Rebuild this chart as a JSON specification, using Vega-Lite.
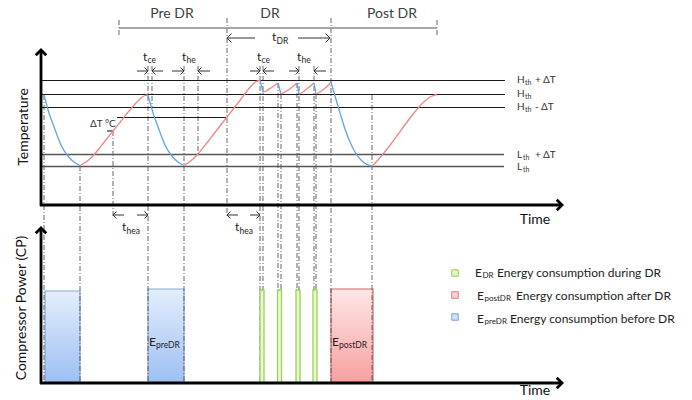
{
  "$schema": "https://vega.github.io/schema/vega-lite/v6.json",
  "width": 692,
  "height": 400,
  "padding": 0,
  "autosize": {"type": "none"},
  "background": "white",
  "config": {"view": {"stroke": null}, "text": {"font": "Lato"}},
  "datasets": {
    "bars": [
      {"kind": "pre", "x": 45, "x2": 80, "y": 291, "y2": 383},
      {"kind": "pre", "x": 148, "x2": 184, "y": 289, "y2": 383},
      {"kind": "dr", "x": 260, "x2": 264, "y": 290, "y2": 383},
      {"kind": "dr", "x": 277.5, "x2": 281.5, "y": 290, "y2": 383},
      {"kind": "dr", "x": 296, "x2": 300, "y": 290, "y2": 383},
      {"kind": "dr", "x": 313, "x2": 317, "y": 290, "y2": 383},
      {"kind": "post", "x": 331, "x2": 373, "y": 289, "y2": 383}
    ],
    "segs": [
      {"kind": "dash", "x": 44, "x2": 44, "y": 95, "y2": 383},
      {"kind": "dash", "x": 80, "x2": 80, "y": 166, "y2": 383},
      {"kind": "dash", "x": 113, "x2": 113, "y": 131, "y2": 218},
      {"kind": "dash", "x": 119, "x2": 119, "y": 20, "y2": 36},
      {"kind": "dash", "x": 148, "x2": 148, "y": 66, "y2": 383},
      {"kind": "dash", "x": 152, "x2": 152, "y": 66, "y2": 107},
      {"kind": "dash", "x": 184, "x2": 184, "y": 66, "y2": 383},
      {"kind": "dash", "x": 198, "x2": 198, "y": 66, "y2": 154},
      {"kind": "dash", "x": 227, "x2": 227, "y": 18, "y2": 218},
      {"kind": "dash", "x": 260, "x2": 260, "y": 66, "y2": 383},
      {"kind": "dash", "x": 263, "x2": 263, "y": 66, "y2": 383},
      {"kind": "dash", "x": 278, "x2": 278, "y": 83, "y2": 383},
      {"kind": "dash", "x": 281, "x2": 281, "y": 94, "y2": 383},
      {"kind": "dash", "x": 297, "x2": 297, "y": 83, "y2": 383},
      {"kind": "dash", "x": 299, "x2": 299, "y": 66, "y2": 383},
      {"kind": "dash", "x": 314, "x2": 314, "y": 66, "y2": 383},
      {"kind": "dash", "x": 316, "x2": 316, "y": 94, "y2": 383},
      {"kind": "dash", "x": 331, "x2": 331, "y": 18, "y2": 383},
      {"kind": "dash", "x": 372, "x2": 372, "y": 95, "y2": 383},
      {"kind": "dash", "x": 437, "x2": 437, "y": 20, "y2": 36},
      {"kind": "thresh", "x": 42, "x2": 505, "y": 80.5, "y2": 80.5},
      {"kind": "thresh", "x": 42, "x2": 505, "y": 94.5, "y2": 94.5},
      {"kind": "thresh", "x": 42, "x2": 505, "y": 107.5, "y2": 107.5},
      {"kind": "thresh", "x": 117, "x2": 227, "y": 117.5, "y2": 117.5},
      {"kind": "thresh", "x": 107, "x2": 113, "y": 131, "y2": 131},
      {"kind": "threshL", "x": 42, "x2": 504, "y": 154.5, "y2": 154.5},
      {"kind": "threshL", "x": 42, "x2": 504, "y": 166.5, "y2": 166.5},
      {"kind": "bracket", "x": 119, "x2": 437, "y": 28, "y2": 28},
      {"kind": "shaft", "x": 227, "x2": 255, "y": 38, "y2": 38},
      {"kind": "shaft", "x": 298, "x2": 330, "y": 38, "y2": 38},
      {"kind": "shaft", "x": 137, "x2": 148, "y": 71, "y2": 71},
      {"kind": "shaft", "x": 152, "x2": 163, "y": 71, "y2": 71},
      {"kind": "shaft", "x": 172, "x2": 184, "y": 71, "y2": 71},
      {"kind": "shaft", "x": 198, "x2": 210, "y": 71, "y2": 71},
      {"kind": "shaft", "x": 250, "x2": 260, "y": 71, "y2": 71},
      {"kind": "shaft", "x": 263, "x2": 274, "y": 71, "y2": 71},
      {"kind": "shaft", "x": 289, "x2": 299, "y": 71, "y2": 71},
      {"kind": "shaft", "x": 314, "x2": 326, "y": 71, "y2": 71},
      {"kind": "shaft", "x": 113, "x2": 124, "y": 215, "y2": 215},
      {"kind": "shaft", "x": 137, "x2": 148, "y": 215, "y2": 215},
      {"kind": "shaft", "x": 227, "x2": 238, "y": 215, "y2": 215},
      {"kind": "shaft", "x": 250, "x2": 260, "y": 215, "y2": 215},
      {"kind": "axis", "x": 41, "x2": 41, "y": 206, "y2": 52},
      {"kind": "axis", "x": 40, "x2": 560, "y": 205, "y2": 205},
      {"kind": "axis", "x": 41, "x2": 41, "y": 384, "y2": 230},
      {"kind": "axis", "x": 40, "x2": 560, "y": 383, "y2": 383}
    ],
    "heads": [
      {"kind": "small", "dir": "r", "x": 148, "y": 71},
      {"kind": "small", "dir": "l", "x": 152, "y": 71},
      {"kind": "small", "dir": "r", "x": 184, "y": 71},
      {"kind": "small", "dir": "l", "x": 198, "y": 71},
      {"kind": "small", "dir": "r", "x": 260, "y": 71},
      {"kind": "small", "dir": "l", "x": 263, "y": 71},
      {"kind": "small", "dir": "r", "x": 299, "y": 71},
      {"kind": "small", "dir": "l", "x": 314, "y": 71},
      {"kind": "small", "dir": "l", "x": 113, "y": 215},
      {"kind": "small", "dir": "r", "x": 148, "y": 215},
      {"kind": "small", "dir": "l", "x": 227, "y": 215},
      {"kind": "small", "dir": "r", "x": 260, "y": 215},
      {"kind": "mid", "dir": "l", "x": 227, "y": 38},
      {"kind": "mid", "dir": "r", "x": 330, "y": 38},
      {"kind": "axis", "dir": "u", "x": 41, "y": 50},
      {"kind": "axis", "dir": "r", "x": 562, "y": 205},
      {"kind": "axis", "dir": "u", "x": 41, "y": 228},
      {"kind": "axis", "dir": "r", "x": 562, "y": 383}
    ],
    "legend": [
      {"kind": "dr", "x": 455, "y": 273},
      {"kind": "post", "x": 455, "y": 295},
      {"kind": "pre", "x": 455, "y": 317}
    ],
    "curve": [
      {"seg": "c1", "phase": "cool", "x": 44, "y": 95},
      {"seg": "c1", "phase": "cool", "x": 47, "y": 106},
      {"seg": "c1", "phase": "cool", "x": 50, "y": 116},
      {"seg": "c1", "phase": "cool", "x": 53, "y": 124},
      {"seg": "c1", "phase": "cool", "x": 57, "y": 135},
      {"seg": "c1", "phase": "cool", "x": 62, "y": 147},
      {"seg": "c1", "phase": "cool", "x": 68, "y": 156},
      {"seg": "c1", "phase": "cool", "x": 74, "y": 162},
      {"seg": "c1", "phase": "cool", "x": 80, "y": 165.5},
      {"seg": "h1", "phase": "heat", "x": 80, "y": 165.5},
      {"seg": "h1", "phase": "heat", "x": 86, "y": 162},
      {"seg": "h1", "phase": "heat", "x": 92, "y": 157},
      {"seg": "h1", "phase": "heat", "x": 98, "y": 150},
      {"seg": "h1", "phase": "heat", "x": 105, "y": 141},
      {"seg": "h1", "phase": "heat", "x": 113, "y": 131},
      {"seg": "h1", "phase": "heat", "x": 121, "y": 121},
      {"seg": "h1", "phase": "heat", "x": 129, "y": 111},
      {"seg": "h1", "phase": "heat", "x": 136, "y": 103},
      {"seg": "h1", "phase": "heat", "x": 141, "y": 98},
      {"seg": "h1", "phase": "heat", "x": 145, "y": 95.5},
      {"seg": "h1", "phase": "heat", "x": 148, "y": 95},
      {"seg": "c2", "phase": "cool", "x": 148, "y": 95},
      {"seg": "c2", "phase": "cool", "x": 151, "y": 106},
      {"seg": "c2", "phase": "cool", "x": 154, "y": 116},
      {"seg": "c2", "phase": "cool", "x": 157, "y": 124},
      {"seg": "c2", "phase": "cool", "x": 161, "y": 135},
      {"seg": "c2", "phase": "cool", "x": 166, "y": 147},
      {"seg": "c2", "phase": "cool", "x": 172, "y": 156},
      {"seg": "c2", "phase": "cool", "x": 178, "y": 162},
      {"seg": "c2", "phase": "cool", "x": 184, "y": 165.5},
      {"seg": "h2", "phase": "heat", "x": 184, "y": 165.5},
      {"seg": "h2", "phase": "heat", "x": 190, "y": 161.5},
      {"seg": "h2", "phase": "heat", "x": 198, "y": 154},
      {"seg": "h2", "phase": "heat", "x": 206, "y": 144},
      {"seg": "h2", "phase": "heat", "x": 213, "y": 135},
      {"seg": "h2", "phase": "heat", "x": 220, "y": 126},
      {"seg": "h2", "phase": "heat", "x": 227, "y": 117},
      {"seg": "h2", "phase": "heat", "x": 234, "y": 108},
      {"seg": "h2", "phase": "heat", "x": 241, "y": 99},
      {"seg": "h2", "phase": "heat", "x": 247, "y": 91},
      {"seg": "h2", "phase": "heat", "x": 252, "y": 85},
      {"seg": "h2", "phase": "heat", "x": 256, "y": 81.5},
      {"seg": "h2", "phase": "heat", "x": 260, "y": 80.5},
      {"seg": "d1c", "phase": "cool", "x": 260, "y": 80.5},
      {"seg": "d1c", "phase": "cool", "x": 263, "y": 92},
      {"seg": "d1h", "phase": "heat", "x": 263, "y": 92},
      {"seg": "d1h", "phase": "heat", "x": 266, "y": 91},
      {"seg": "d1h", "phase": "heat", "x": 270, "y": 88.5},
      {"seg": "d1h", "phase": "heat", "x": 274, "y": 86},
      {"seg": "d1h", "phase": "heat", "x": 278, "y": 83},
      {"seg": "d2c", "phase": "cool", "x": 278, "y": 83},
      {"seg": "d2c", "phase": "cool", "x": 281, "y": 94},
      {"seg": "d2h", "phase": "heat", "x": 281, "y": 94},
      {"seg": "d2h", "phase": "heat", "x": 285, "y": 92},
      {"seg": "d2h", "phase": "heat", "x": 289, "y": 89.5},
      {"seg": "d2h", "phase": "heat", "x": 293, "y": 86.5},
      {"seg": "d2h", "phase": "heat", "x": 297, "y": 83},
      {"seg": "d3c", "phase": "cool", "x": 297, "y": 83},
      {"seg": "d3c", "phase": "cool", "x": 299, "y": 94},
      {"seg": "d3h", "phase": "heat", "x": 299, "y": 94},
      {"seg": "d3h", "phase": "heat", "x": 303, "y": 92},
      {"seg": "d3h", "phase": "heat", "x": 306, "y": 89.5},
      {"seg": "d3h", "phase": "heat", "x": 310, "y": 86.5},
      {"seg": "d3h", "phase": "heat", "x": 314, "y": 83},
      {"seg": "d4c", "phase": "cool", "x": 314, "y": 83},
      {"seg": "d4c", "phase": "cool", "x": 316, "y": 94},
      {"seg": "d4h", "phase": "heat", "x": 316, "y": 94},
      {"seg": "d4h", "phase": "heat", "x": 320, "y": 92},
      {"seg": "d4h", "phase": "heat", "x": 324, "y": 89},
      {"seg": "d4h", "phase": "heat", "x": 328, "y": 85.5},
      {"seg": "d4h", "phase": "heat", "x": 331, "y": 82},
      {"seg": "pc", "phase": "cool", "x": 331, "y": 82},
      {"seg": "pc", "phase": "cool", "x": 335, "y": 96},
      {"seg": "pc", "phase": "cool", "x": 340, "y": 113},
      {"seg": "pc", "phase": "cool", "x": 345, "y": 129},
      {"seg": "pc", "phase": "cool", "x": 350, "y": 142},
      {"seg": "pc", "phase": "cool", "x": 355, "y": 152},
      {"seg": "pc", "phase": "cool", "x": 361, "y": 160},
      {"seg": "pc", "phase": "cool", "x": 366, "y": 164},
      {"seg": "pc", "phase": "cool", "x": 372, "y": 166},
      {"seg": "ph", "phase": "heat", "x": 372, "y": 166},
      {"seg": "ph", "phase": "heat", "x": 377, "y": 161},
      {"seg": "ph", "phase": "heat", "x": 383, "y": 154},
      {"seg": "ph", "phase": "heat", "x": 391, "y": 144},
      {"seg": "ph", "phase": "heat", "x": 399, "y": 133},
      {"seg": "ph", "phase": "heat", "x": 407, "y": 122},
      {"seg": "ph", "phase": "heat", "x": 414, "y": 113},
      {"seg": "ph", "phase": "heat", "x": 420, "y": 106},
      {"seg": "ph", "phase": "heat", "x": 426, "y": 100},
      {"seg": "ph", "phase": "heat", "x": 431, "y": 96.5},
      {"seg": "ph", "phase": "heat", "x": 437, "y": 94.5}
    ],
    "texts": [
      {"t": "Pre DR", "x": 172, "y": 14, "kind": "head"},
      {"t": "DR", "x": 270, "y": 14, "kind": "head"},
      {"t": "Post DR", "x": 392, "y": 14, "kind": "head"},
      {"t": "Time", "x": 535, "y": 220, "kind": "axt"},
      {"t": "Time", "x": 535, "y": 391, "kind": "axt"},
      {"t": "Temperature", "x": 24, "y": 127, "kind": "axv"},
      {"t": "Compressor Power (CP)", "x": 22, "y": 308, "kind": "axv"},
      {"t": "t", "x": 143, "y": 57, "kind": "tb"},
      {"t": "ce", "x": 147.5, "y": 60, "kind": "ts"},
      {"t": "t", "x": 182, "y": 57, "kind": "tb"},
      {"t": "he", "x": 186.5, "y": 60, "kind": "ts"},
      {"t": "t", "x": 257, "y": 57, "kind": "tb"},
      {"t": "ce", "x": 261.5, "y": 60, "kind": "ts"},
      {"t": "t", "x": 297, "y": 57, "kind": "tb"},
      {"t": "he", "x": 301.5, "y": 60, "kind": "ts"},
      {"t": "t", "x": 272, "y": 37, "kind": "tb"},
      {"t": "DR", "x": 276.5, "y": 41, "kind": "ts"},
      {"t": "t", "x": 122, "y": 227, "kind": "tb"},
      {"t": "hea", "x": 126.5, "y": 231, "kind": "ts"},
      {"t": "t", "x": 235, "y": 227, "kind": "tb"},
      {"t": "hea", "x": 239.5, "y": 231, "kind": "ts"},
      {"t": "E", "x": 149, "y": 342, "kind": "tb"},
      {"t": "preDR", "x": 156, "y": 345, "kind": "ts"},
      {"t": "E", "x": 332, "y": 342, "kind": "tb"},
      {"t": "postDR", "x": 339, "y": 345, "kind": "ts"},
      {"t": "ΔT °C", "x": 90, "y": 124, "kind": "thr"},
      {"t": "H", "x": 517, "y": 80, "kind": "thr"},
      {"t": "th", "x": 525, "y": 83, "kind": "thrs"},
      {"t": "+ ΔT", "x": 535, "y": 80, "kind": "thr"},
      {"t": "H", "x": 517, "y": 94, "kind": "thr"},
      {"t": "th", "x": 525, "y": 97, "kind": "thrs"},
      {"t": "H", "x": 517, "y": 107, "kind": "thr"},
      {"t": "th", "x": 525, "y": 110, "kind": "thrs"},
      {"t": "-  ΔT", "x": 535, "y": 107, "kind": "thr"},
      {"t": "L", "x": 517, "y": 155, "kind": "thr"},
      {"t": "th", "x": 523, "y": 158, "kind": "thrs"},
      {"t": "+ ΔT", "x": 535, "y": 155, "kind": "thr"},
      {"t": "L", "x": 517, "y": 167, "kind": "thr"},
      {"t": "th", "x": 523, "y": 170, "kind": "thrs"},
      {"t": "E", "x": 475, "y": 273, "kind": "lg"},
      {"t": "DR", "x": 482.5, "y": 276, "kind": "lgs"},
      {"t": "Energy consumption during DR", "x": 497, "y": 273, "kind": "lg"},
      {"t": "E", "x": 477, "y": 296, "kind": "lg"},
      {"t": "postDR", "x": 484.5, "y": 299, "kind": "lgs"},
      {"t": "Energy consumption after DR", "x": 516, "y": 296, "kind": "lg"},
      {"t": "E", "x": 477, "y": 319, "kind": "lg"},
      {"t": "preDR", "x": 484.5, "y": 322, "kind": "lgs"},
      {"t": "Energy consumption before DR", "x": 510, "y": 319, "kind": "lg"}
    ]
  },
  "encoding": {
    "x": {"field": "x", "type": "quantitative", "scale": {"domain": [0, 692], "nice": false, "zero": false}, "axis": null},
    "y": {"field": "y", "type": "quantitative", "scale": {"domain": [0, 400], "nice": false, "zero": false, "reverse": true}, "axis": null}
  },
  "layer": [
    {
      "data": {"name": "bars"},
      "transform": [{"filter": "datum.kind === 'pre'"}],
      "mark": {"type": "rect", "stroke": "#86a7d8", "strokeWidth": 1.2,
        "fill": {"gradient": "linear", "x1": 0, "y1": 0, "x2": 0, "y2": 1, "stops": [{"offset": 0, "color": "#e4eefc"}, {"offset": 1, "color": "#9cbff4"}]}},
      "encoding": {"x2": {"field": "x2"}, "y2": {"field": "y2"}}
    },
    {
      "data": {"name": "bars"},
      "transform": [{"filter": "datum.kind === 'post'"}],
      "mark": {"type": "rect", "stroke": "#d06a6a", "strokeWidth": 1.2,
        "fill": {"gradient": "linear", "x1": 0, "y1": 0, "x2": 0, "y2": 1, "stops": [{"offset": 0, "color": "#ffe6e6"}, {"offset": 1, "color": "#f7a0a0"}]}},
      "encoding": {"x2": {"field": "x2"}, "y2": {"field": "y2"}}
    },
    {
      "data": {"name": "segs"},
      "transform": [{"filter": "datum.kind === 'dash'"}],
      "mark": {"type": "rule", "stroke": "#555555", "strokeWidth": 0.9, "strokeDash": [5, 2, 1, 2]},
      "encoding": {"x2": {"field": "x2"}, "y2": {"field": "y2"}}
    },
    {
      "data": {"name": "bars"},
      "transform": [{"filter": "datum.kind === 'dr'"}],
      "mark": {"type": "rect", "stroke": "#9bcf58", "strokeWidth": 1.3, "fill": "#eaf8cf"},
      "encoding": {"x2": {"field": "x2"}, "y2": {"field": "y2"}}
    },
    {
      "data": {"name": "segs"},
      "transform": [{"filter": "datum.kind === 'thresh'"}],
      "mark": {"type": "rule", "stroke": "#1a1a1a", "strokeWidth": 1.1},
      "encoding": {"x2": {"field": "x2"}, "y2": {"field": "y2"}}
    },
    {
      "data": {"name": "segs"},
      "transform": [{"filter": "datum.kind === 'threshL'"}],
      "mark": {"type": "rule", "stroke": "#555555", "strokeWidth": 1.3},
      "encoding": {"x2": {"field": "x2"}, "y2": {"field": "y2"}}
    },
    {
      "data": {"name": "segs"},
      "transform": [{"filter": "datum.kind === 'bracket'"}],
      "mark": {"type": "rule", "stroke": "#8a8a8a", "strokeWidth": 1.5},
      "encoding": {"x2": {"field": "x2"}, "y2": {"field": "y2"}}
    },
    {
      "data": {"name": "segs"},
      "transform": [{"filter": "datum.kind === 'shaft'"}],
      "mark": {"type": "rule", "stroke": "#333333", "strokeWidth": 1},
      "encoding": {"x2": {"field": "x2"}, "y2": {"field": "y2"}}
    },
    {
      "data": {"name": "segs"},
      "transform": [{"filter": "datum.kind === 'axis'"}],
      "mark": {"type": "rule", "stroke": "#000000", "strokeWidth": 2.8},
      "encoding": {"x2": {"field": "x2"}, "y2": {"field": "y2"}}
    },
    {
      "data": {"name": "curve"},
      "mark": {"type": "line", "interpolate": "monotone", "strokeWidth": 1.3},
      "encoding": {
        "detail": {"field": "seg"},
        "color": {"field": "phase", "type": "nominal", "scale": {"domain": ["cool", "heat"], "range": ["#62a3ea", "#f08585"]}, "legend": null}
      }
    },
    {
      "data": {"name": "heads"},
      "transform": [{"filter": "datum.kind === 'small'"}],
      "mark": {"type": "point", "filled": false, "stroke": "#333333", "strokeWidth": 1, "size": 49, "opacity": 1},
      "encoding": {
        "shape": {"field": "dir", "type": "nominal", "scale": {"domain": ["l", "r", "u"], "range": ["M1,-1L0,0L1,1", "M-1,-1L0,0L-1,1", "M-1,1L0,0L1,1"]}, "legend": null}
      }
    },
    {
      "data": {"name": "heads"},
      "transform": [{"filter": "datum.kind === 'mid'"}],
      "mark": {"type": "point", "filled": false, "stroke": "#333333", "strokeWidth": 1, "size": 81, "opacity": 1},
      "encoding": {
        "shape": {"field": "dir", "type": "nominal", "legend": null}
      }
    },
    {
      "data": {"name": "heads"},
      "transform": [{"filter": "datum.kind === 'axis'"}],
      "mark": {"type": "point", "filled": false, "stroke": "#000000", "strokeWidth": 2.8, "size": 110, "opacity": 1, "strokeJoin": "miter"},
      "encoding": {
        "shape": {"field": "dir", "type": "nominal", "legend": null}
      }
    },
    {
      "data": {"name": "legend"},
      "mark": {"type": "point", "shape": "square", "filled": true, "size": 42, "strokeWidth": 1, "opacity": 1},
      "encoding": {
        "fill": {"field": "kind", "type": "nominal", "scale": {"domain": ["dr", "post", "pre"], "range": ["#e2f5c0", "#ffd3d3", "#cddff9"]}, "legend": null},
        "stroke": {"field": "kind", "type": "nominal", "scale": {"domain": ["dr", "post", "pre"], "range": ["#9bcf58", "#dd7777", "#7fa0d8"]}, "legend": null}
      }
    },
    {
      "data": {"name": "texts"},
      "transform": [{"filter": "datum.kind === 'head'"}],
      "mark": {"type": "text", "fontSize": 14, "color": "#404040", "align": "center", "baseline": "middle"},
      "encoding": {"text": {"field": "t"}}
    },
    {
      "data": {"name": "texts"},
      "transform": [{"filter": "datum.kind === 'axt'"}],
      "mark": {"type": "text", "fontSize": 14, "color": "#111111", "align": "center", "baseline": "middle"},
      "encoding": {"text": {"field": "t"}}
    },
    {
      "data": {"name": "texts"},
      "transform": [{"filter": "datum.kind === 'axv'"}],
      "mark": {"type": "text", "fontSize": 14, "color": "#111111", "align": "center", "baseline": "middle", "angle": 270},
      "encoding": {"text": {"field": "t"}}
    },
    {
      "data": {"name": "texts"},
      "transform": [{"filter": "datum.kind === 'tb'"}],
      "mark": {"type": "text", "fontSize": 12, "color": "#222222", "align": "left", "baseline": "middle"},
      "encoding": {"text": {"field": "t"}}
    },
    {
      "data": {"name": "texts"},
      "transform": [{"filter": "datum.kind === 'ts'"}],
      "mark": {"type": "text", "fontSize": 8.5, "color": "#222222", "align": "left", "baseline": "middle"},
      "encoding": {"text": {"field": "t"}}
    },
    {
      "data": {"name": "texts"},
      "transform": [{"filter": "datum.kind === 'thr'"}],
      "mark": {"type": "text", "fontSize": 10, "color": "#333333", "align": "left", "baseline": "middle"},
      "encoding": {"text": {"field": "t"}}
    },
    {
      "data": {"name": "texts"},
      "transform": [{"filter": "datum.kind === 'thrs'"}],
      "mark": {"type": "text", "fontSize": 7, "color": "#333333", "align": "left", "baseline": "middle"},
      "encoding": {"text": {"field": "t"}}
    },
    {
      "data": {"name": "texts"},
      "transform": [{"filter": "datum.kind === 'lg'"}],
      "mark": {"type": "text", "fontSize": 12, "color": "#222222", "align": "left", "baseline": "middle"},
      "encoding": {"text": {"field": "t"}}
    },
    {
      "data": {"name": "texts"},
      "transform": [{"filter": "datum.kind === 'lgs'"}],
      "mark": {"type": "text", "fontSize": 8, "color": "#222222", "align": "left", "baseline": "middle"},
      "encoding": {"text": {"field": "t"}}
    }
  ]
}
